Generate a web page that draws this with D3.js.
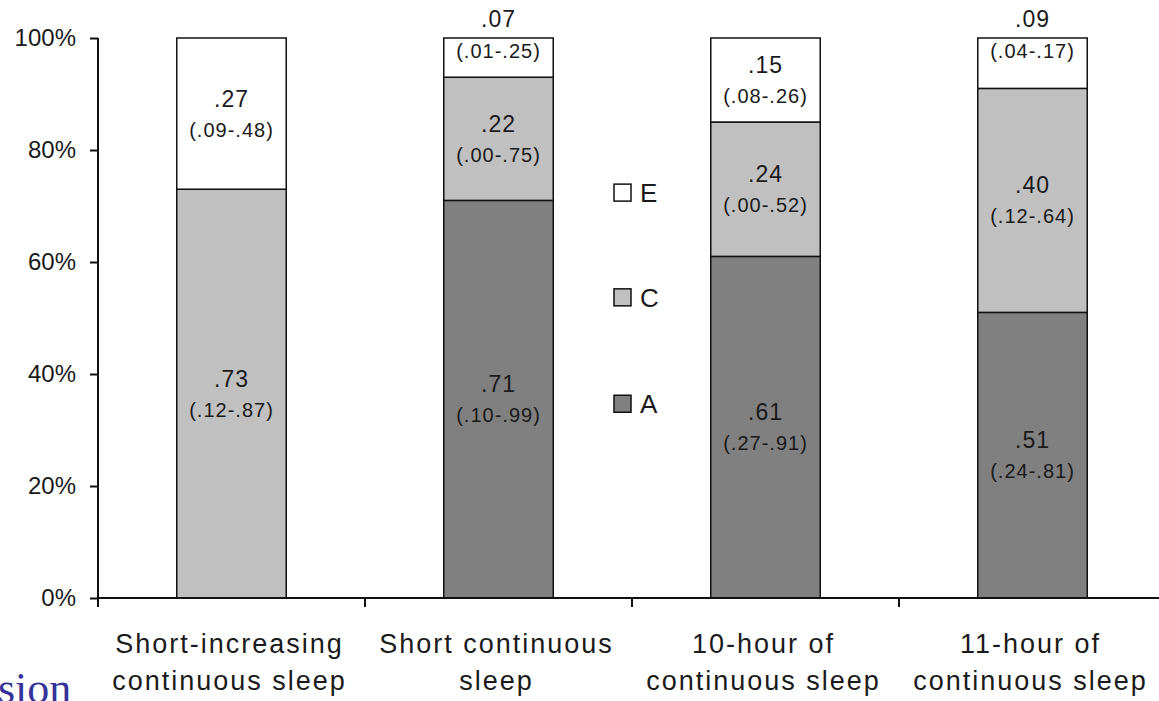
<!DOCTYPE html>
<html>
<head>
<meta charset="utf-8">
<script src="https://cdn.jsdelivr.net/npm/d3@7"></script>
<style>
  html, body { margin: 0; padding: 0; background: #fff; overflow: hidden; }
  svg { display: block; font-family: "Liberation Sans", Arial, sans-serif; }
</style>
</head>
<body>
<svg id="chart" width="1159" height="701"></svg>
<script>
// ---- data ----
const categories = [
  ["Short-increasing", "continuous sleep"],
  ["Short continuous", "sleep"],
  ["10-hour of", "continuous sleep"],
  ["11-hour of", "continuous sleep"]
];
const seriesKeys = ["A", "C", "E"];
const valuesA = [0.00, 0.71, 0.61, 0.51];
const valuesC = [0.73, 0.22, 0.24, 0.40];
const valuesE = [0.27, 0.07, 0.15, 0.09];
const intervalsA = [null, "(.10-.99)", "(.27-.91)", "(.24-.81)"];
const intervalsC = ["(.12-.87)", "(.00-.75)", "(.00-.52)", "(.12-.64)"];
const intervalsE = ["(.09-.48)", "(.01-.25)", "(.08-.26)", "(.04-.17)"];
const yTickValues = [0, 0.2, 0.4, 0.6, 0.8, 1.0];
const legendOrder = ["E", "C", "A"];

// ---- build ----
const colors = { A: "#808080", C: "#c0c0c0", E: "#ffffff" };
const intervals = { A: intervalsA, C: intervalsC, E: intervalsE };
const rows = categories.map((c, i) => ({ idx: i, A: valuesA[i], C: valuesC[i], E: valuesE[i] }));

const svg = d3.select("#chart");
const mLeft = 98, mRight = 1166, mTop = 38, mBottom = 598;

const x = d3.scaleBand().domain(d3.range(categories.length)).range([mLeft, mRight]).paddingInner(0).paddingOuter(0);
const barW = x.bandwidth() * 0.41;
const y = d3.scaleLinear().domain([0, 1]).range([mBottom, mTop]);

const stack = d3.stack().keys(seriesKeys);
const layers = stack(rows);

// bars
const g = svg.append("g");
layers.forEach(layer => {
  const key = layer.key;
  layer.forEach((d, i) => {
    if (d[1] - d[0] <= 0) return;
    g.append("rect")
      .attr("x", x(i) + (x.bandwidth() - barW) / 2)
      .attr("y", y(d[1]))
      .attr("width", barW)
      .attr("height", y(d[0]) - y(d[1]))
      .attr("fill", colors[key])
      .attr("stroke", "#111")
      .attr("stroke-width", 1.5);
  });
});

// labels
const fmt = v => d3.format(".2f")(v).replace(/^0/, "");
layers.forEach(layer => {
  const key = layer.key;
  layer.forEach((d, i) => {
    const v = d[1] - d[0];
    if (v <= 0) return;
    const cx = x(i) + x.bandwidth() / 2;
    let vy, iy;
    if (v < 0.1) {
      vy = y(d[1]) - 19;
      iy = y(d[1]) + 13;
    } else {
      const mid = (y(d[0]) + y(d[1])) / 2;
      vy = mid - 15;
      iy = mid + 16;
    }
    svg.append("text").attr("x", cx).attr("y", vy)
      .attr("text-anchor", "middle").attr("dominant-baseline", "central")
      .attr("font-size", 23).attr("fill", "#1a1a1a").attr("letter-spacing", 1).text(fmt(v));
    svg.append("text").attr("x", cx).attr("y", iy)
      .attr("text-anchor", "middle").attr("dominant-baseline", "central")
      .attr("font-size", 20).attr("fill", "#1a1a1a").attr("letter-spacing", 1).text(intervals[key][i]);
  });
});

// y axis
const yAxis = d3.axisLeft(y).tickValues(yTickValues).tickFormat(d3.format(".0%")).tickSize(8).tickPadding(14);
const ya = svg.append("g").attr("transform", `translate(${mLeft},0)`).call(yAxis);
ya.select(".domain").attr("d", `M0,${mTop}V${mBottom + 9}`).attr("stroke", "#111").attr("stroke-width", 2);
ya.selectAll(".tick line").attr("stroke", "#111").attr("stroke-width", 2);
ya.selectAll(".tick text").attr("font-size", 24).attr("fill", "#1a1a1a")
  .attr("font-family", "Liberation Sans, Arial, sans-serif");

// x axis (ticks at category boundaries)
const xa = svg.append("g");
xa.append("line").attr("x1", mLeft).attr("x2", mRight).attr("y1", mBottom).attr("y2", mBottom)
  .attr("stroke", "#111").attr("stroke-width", 2);
d3.range(categories.length + 1).forEach(i => {
  const bx = i < categories.length ? x(i) : x(categories.length - 1) + x.bandwidth();
  xa.append("line").attr("x1", bx).attr("x2", bx).attr("y1", mBottom).attr("y2", mBottom + 9)
    .attr("stroke", "#111").attr("stroke-width", 2);
});
categories.forEach((lines, i) => {
  const cx = x(i) + x.bandwidth() / 2 - 2;
  lines.forEach((ln, j) => {
    xa.append("text").attr("x", cx).attr("y", 653 + j * 37)
      .attr("text-anchor", "middle").attr("font-size", 27).attr("letter-spacing", 2)
      .attr("fill", "#1a1a1a").text(ln);
  });
});

// legend
const legY = { E: y(0.723), C: y(0.536), A: y(0.346) };
legendOrder.forEach(k => {
  const cy = legY[k];
  svg.append("rect").attr("x", 614).attr("y", cy - 9).attr("width", 17).attr("height", 17)
    .attr("fill", colors[k]).attr("stroke", "#111").attr("stroke-width", 1.5);
  svg.append("text").attr("x", 640).attr("y", cy).attr("dominant-baseline", "central")
    .attr("font-size", 26).attr("fill", "#1a1a1a").text(k);
});

// cropped slide text at bottom-left (cut off by the frame, as in the reference)
svg.append("text").attr("x", -2).attr("y", 703)
  .attr("font-family", "Liberation Serif, Times New Roman, serif")
  .attr("font-size", 44).attr("fill", "#333399").text("sion");
</script>
</body>
</html>
